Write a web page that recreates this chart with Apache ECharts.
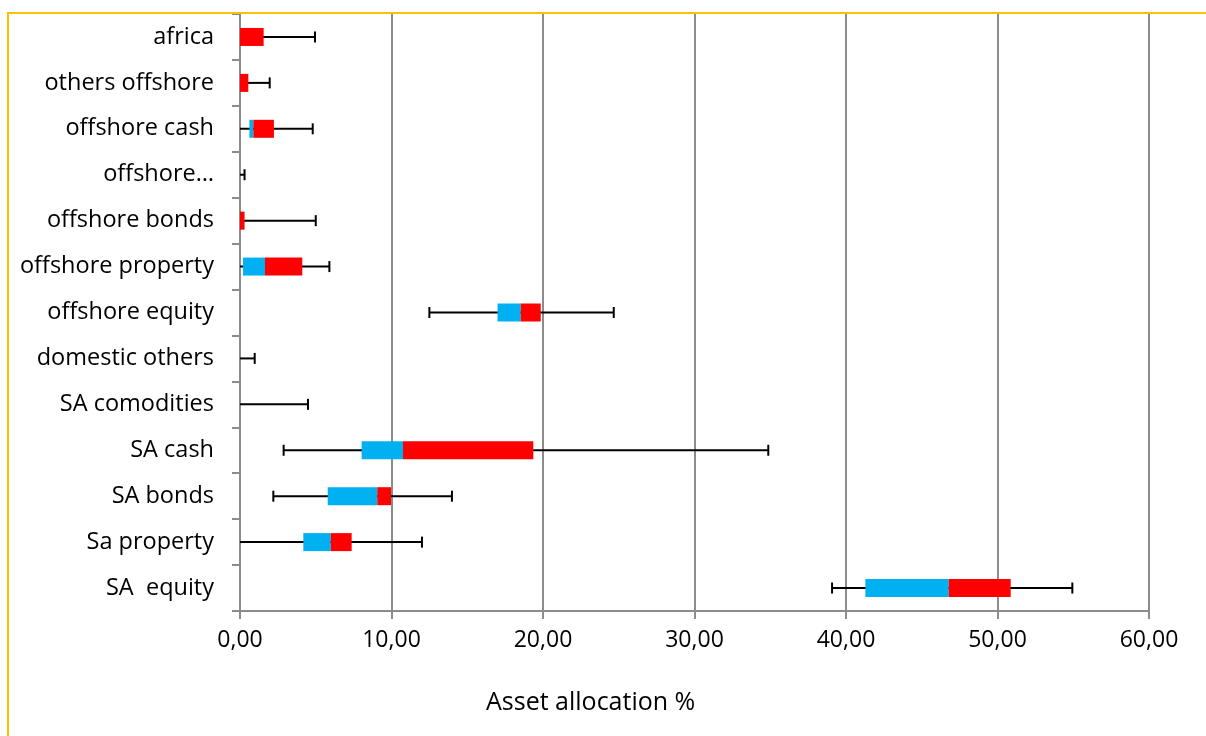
<!DOCTYPE html>
<html>
<head>
<meta charset="utf-8">
<script src="https://cdn.jsdelivr.net/npm/echarts@6/dist/echarts.min.js"></script>
<style>html,body{margin:0;padding:0;background:#fff;}#c{width:1206px;height:736px;}</style>
</head>
<body>
<div id="c"></div>
<script>
// categories listed bottom-first (as on a value-down category axis)
var categories = ["SA  equity","Sa property","SA bonds","SA cash","SA comodities","domestic others","offshore equity","offshore property","offshore bonds","offshore…","offshore cash","others offshore","africa"];
var minVals    = [39.08, 0,    2.2,  2.88,  0,    0,    12.5,  0,    0,   0,   0,    0,    0];
var q1Vals     = [41.28, 4.18, 5.79, 8.03,  0,    0,    17.0,  0.2,  0,   0,   0.62, 0,    0];
var medianVals = [46.78, 5.99, 9.06, 10.76, 0,    0,    18.53, 1.65, 0,   0,   0.88, 0,    0];
var q3Vals     = [50.87, 7.37, 9.97, 19.36, 0,    0,    19.85, 4.11, 0.3, 0,   2.24, 0.55, 1.56];
var maxVals    = [54.94, 12.01,13.99,34.87, 4.49, 0.97, 24.67, 5.9,  5.0, 0.3, 4.8,  1.96, 4.95];
var xTicks = [0, 10, 20, 30, 40, 50, 60];

var lowerBox = q1Vals.map(function(v, i){ return +(medianVals[i] - v).toFixed(4); });
var upperBox = medianVals.map(function(v, i){ return +(q3Vals[i] - v).toFixed(4); });
var whiskerData = categories.map(function(c, i){ return [minVals[i], maxVals[i], i]; });

var FONT = '"Open Sans", sans-serif';
var chart = echarts.init(document.getElementById('c'));
chart.setOption({
  animation: false,
  backgroundColor: '#ffffff',
  grid: { left: 240, right: 57, top: 14, bottom: 125, containLabel: false },
  title: {
    text: 'Asset allocation %',
    left: 481, top: 685,
    textStyle: { fontFamily: FONT, fontSize: 25, fontWeight: 'normal', color: '#000' }
  },
  graphic: [{
    type: 'rect', silent: true, z: 100,
    shape: { x: 8, y: 13, width: 1400, height: 900 },
    style: { fill: 'none', stroke: '#FFC000', lineWidth: 2 }
  }],
  xAxis: {
    type: 'value', min: xTicks[0], max: xTicks[xTicks.length - 1], interval: 10,
    axisLine: { show: true, lineStyle: { color: '#8c8c8c', width: 2 } },
    axisTick: { show: true, length: 8, lineStyle: { color: '#8c8c8c', width: 2 } },
    splitLine: { show: true, lineStyle: { color: '#8c8c8c', width: 2 } },
    axisLabel: {
      margin: 18, fontFamily: FONT, fontSize: 23, color: '#000',
      formatter: function(v){ return v.toFixed(2).replace('.', ','); }
    }
  },
  yAxis: {
    type: 'category', data: categories,
    axisLine: { show: true, onZero: false, lineStyle: { color: '#8c8c8c', width: 2 } },
    axisTick: { show: true, length: 8, alignWithLabel: false, lineStyle: { color: '#8c8c8c', width: 2 } },
    splitLine: { show: false },
    axisLabel: { margin: 26, fontFamily: FONT, fontSize: 23.5, color: '#000', padding: [3, 0, 0, 0] }
  },
  series: [
    {
      type: 'custom', z: 1,
      data: whiskerData,
      encode: { x: [0, 1], y: 2 },
      renderItem: function(params, api){
        var a = api.coord([api.value(0), api.value(2)]);
        var b = api.coord([api.value(1), api.value(2)]);
        var h = 11;
        var children = [{
          type: 'line', shape: { x1: a[0], y1: a[1], x2: b[0], y2: b[1] },
          style: { stroke: '#000', lineWidth: 2 }
        }, {
          type: 'line', shape: { x1: b[0], y1: b[1] - h/2, x2: b[0], y2: b[1] + h/2 },
          style: { stroke: '#000', lineWidth: 2 }
        }];
        if (api.value(0) > 0) {
          children.push({
            type: 'line', shape: { x1: a[0], y1: a[1] - h/2, x2: a[0], y2: a[1] + h/2 },
            style: { stroke: '#000', lineWidth: 2 }
          });
        }
        return { type: 'group', children: children };
      }
    },
    { type: 'bar', stack: 'box', barWidth: 18, z: 3, data: q1Vals, itemStyle: { color: 'rgba(0,0,0,0)' } },
    { type: 'bar', stack: 'box', barWidth: 18, z: 3, data: lowerBox, itemStyle: { color: '#00B0F0' } },
    { type: 'bar', stack: 'box', barWidth: 18, z: 3, data: upperBox, itemStyle: { color: '#FF0000' } }
  ]
});
</script>
</body>
</html>
